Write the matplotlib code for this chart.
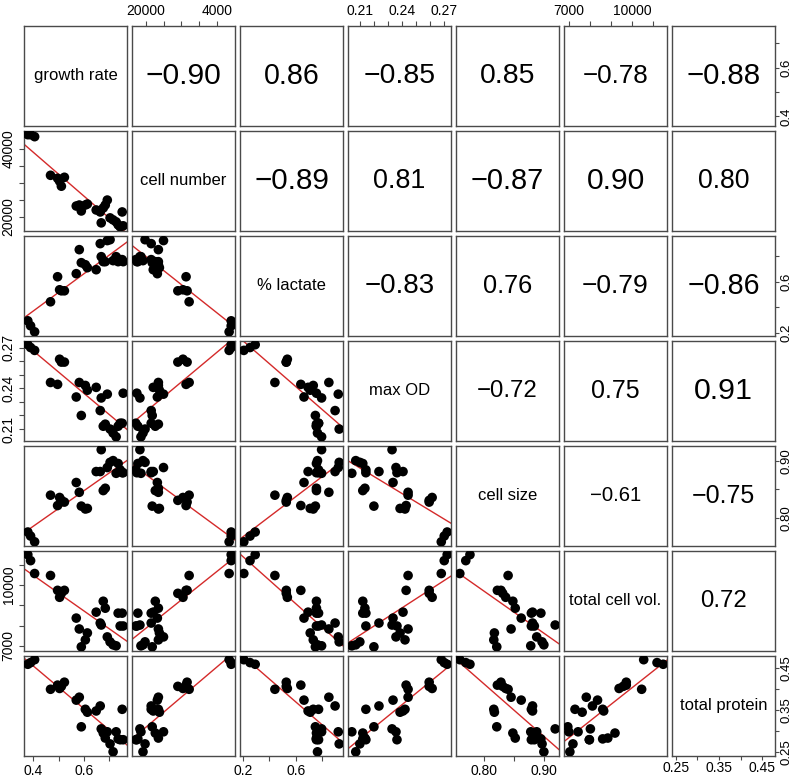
import numpy as np
import matplotlib.pyplot as plt

plt.rcParams['font.family'] = ['Liberation Sans', 'DejaVu Sans']

# variable names (diagonal labels)
names = ["growth rate", "cell number", "% lactate", "max OD",
         "cell size", "total cell vol.", "total protein"]

growth_rate = [0.378, 0.389, 0.405, 0.468, 0.496, 0.504, 0.511, 0.523, 0.570,
               0.582, 0.590, 0.606, 0.614, 0.649, 0.665, 0.669, 0.677, 0.685,
               0.693, 0.704, 0.716, 0.728, 0.736, 0.744, 0.752, 0.756]
cell_number = [44070, 44070, 43490, 32180, 31310, 30440, 28990, 31600, 23190,
               23480, 21740, 23480, 23770, 22030, 21450, 18260, 22610, 23480,
               24930, 19710, 19130, 18550, 17680, 17100, 21450, 17390]
lactate = [0.294, 0.255, 0.208, 0.443, 0.639, 0.537, 0.529, 0.529, 0.663,
           0.851, 0.749, 0.733, 0.710, 0.694, 0.898, 0.796, 0.757, 0.757,
           0.922, 0.929, 0.765, 0.796, 0.757, 0.773, 0.773, 0.757]
max_od = [0.2721, 0.2700, 0.2679, 0.2443, 0.2429, 0.2614, 0.2593, 0.2593, 0.2336,
          0.2443, 0.2200, 0.2421, 0.2386, 0.2407, 0.2236, 0.2329, 0.2121, 0.2136,
          0.2357, 0.2100, 0.2071, 0.2043, 0.2121, 0.2143, 0.2143, 0.2364]
cell_size = [0.776, 0.769, 0.759, 0.840, 0.822, 0.836, 0.831, 0.828, 0.862,
             0.845, 0.821, 0.816, 0.817, 0.881, 0.881, 0.919, 0.848, 0.852,
             0.888, 0.897, 0.900, 0.878, 0.895, 0.884, 0.879, 0.879]
total_cell_vol = [11490, 11197, 10562, 10465, 9733, 9391, 9586, 9733, 8366,
                  7830, 6951, 7293, 7634, 8659, 8122, 8025, 9196, 8854,
                  7439, 7195, 7049, 7000, 8610, 7976, 8610, 7976]
total_protein = [0.460, 0.464, 0.471, 0.400, 0.410, 0.402, 0.407, 0.417, 0.374,
                 0.381, 0.310, 0.352, 0.345, 0.348, 0.360, 0.305, 0.295, 0.283,
                 0.298, 0.269, 0.250, 0.298, 0.281, 0.279, 0.352, 0.279]

data = [growth_rate, cell_number, lactate, max_od, cell_size,
        total_cell_vol, total_protein]

# correlation coefficients shown in the upper panels (row by row)
cor_upper = [-0.90, 0.86, -0.85, 0.85, -0.78, -0.88,
             -0.89, 0.81, -0.87, 0.90, 0.80,
             -0.83, 0.76, -0.79, -0.86,
             -0.72, 0.75, 0.91,
             -0.61, -0.75,
             0.72]

# axis ticks and which of them carry labels
tick_vals = [
    [0.4, 0.5, 0.6, 0.7],
    [20000, 25000, 30000, 35000, 40000],
    [0.2, 0.4, 0.6, 0.8],
    [0.21, 0.22, 0.23, 0.24, 0.25, 0.26, 0.27],
    [0.80, 0.85, 0.90],
    [7000, 8000, 9000, 10000, 11000],
    [0.25, 0.30, 0.35, 0.40, 0.45],
]
tick_text = [
    ["0.4", "", "0.6", ""],
    ["20000", "", "", "", "40000"],
    ["0.2", "", "0.6", ""],
    ["0.21", "", "", "0.24", "", "", "0.27"],
    ["0.80", "", "0.90"],
    ["7000", "", "", "10000", ""],
    ["0.25", "", "0.35", "", "0.45"],
]
cell_number_top_text = ["20000", "", "", "", "4000"]

n = len(names)
W, H = 796, 777
fig = plt.figure(figsize=(W / 100, H / 100), dpi=100)

frame_col = "#4a4a4a"


def lims(v):
    lo, hi = min(v), max(v)
    pad = 0.04 * (hi - lo)
    return lo - pad, hi + pad


for i in range(n):
    for j in range(n):
        left = (24 + j * 108) / W
        bottom = 1 - (26 + i * 105 + 99.5) / H
        ax = fig.add_axes([left, bottom, 103 / W, 99.5 / H])
        ax.set_xlim(lims(data[j]))
        ax.set_ylim(lims(data[i]))
        for s in ax.spines.values():
            s.set_color(frame_col)
            s.set_linewidth(1.0)
        ax.tick_params(which="both", bottom=False, top=False, left=False,
                       right=False, labelbottom=False, labeltop=False,
                       labelleft=False, labelright=False,
                       direction="out", length=3.5, width=0.8,
                       color=frame_col, labelsize=10, pad=2.5)

        if i == j:
            ax.text(0.5, 0.5, names[i], transform=ax.transAxes,
                    ha="center", va="center", fontsize=12)
        elif i < j:
            k = sum(n - 1 - r for r in range(i)) + (j - i - 1)
            r = cor_upper[k]
            txt = f"{r:.2f}".replace("-", "\u2212")
            ax.text(0.5, 0.5, txt, transform=ax.transAxes,
                    ha="center", va="center", fontsize=24 * abs(r))
        else:
            x = np.array(data[j], float)
            y = np.array(data[i], float)
            ax.scatter(x, y, s=48, color="black", edgecolors="none", zorder=3)
            b, a = np.polyfit(x, y, 1)
            xl = np.array(ax.get_xlim())
            ax.plot(xl, a + b * xl, color="#d42a2a", lw=1.0, zorder=2)

        # R pairs style outer axes
        if i == 0 and j % 2 == 1:
            ax.set_xticks(tick_vals[j])
            lab = cell_number_top_text if j == 1 else tick_text[j]
            ax.set_xticklabels(lab)
            ax.tick_params(top=True, labeltop=True)
        if i == n - 1 and j % 2 == 0:
            ax.set_xticks(tick_vals[j])
            ax.set_xticklabels(tick_text[j])
            ax.tick_params(bottom=True, labelbottom=True)
        if j == 0 and i % 2 == 1:
            ax.set_yticks(tick_vals[i])
            ax.set_yticklabels(tick_text[i], rotation=90, va="center")
            ax.tick_params(left=True, labelleft=True)
        if j == n - 1 and i % 2 == 0:
            ax.set_yticks(tick_vals[i])
            ax.set_yticklabels(tick_text[i], rotation=90, va="center",
                               fontsize=9.5)
            ax.tick_params(right=True, labelright=True, length=3, pad=1)

fig.savefig("out.png", dpi=100)
